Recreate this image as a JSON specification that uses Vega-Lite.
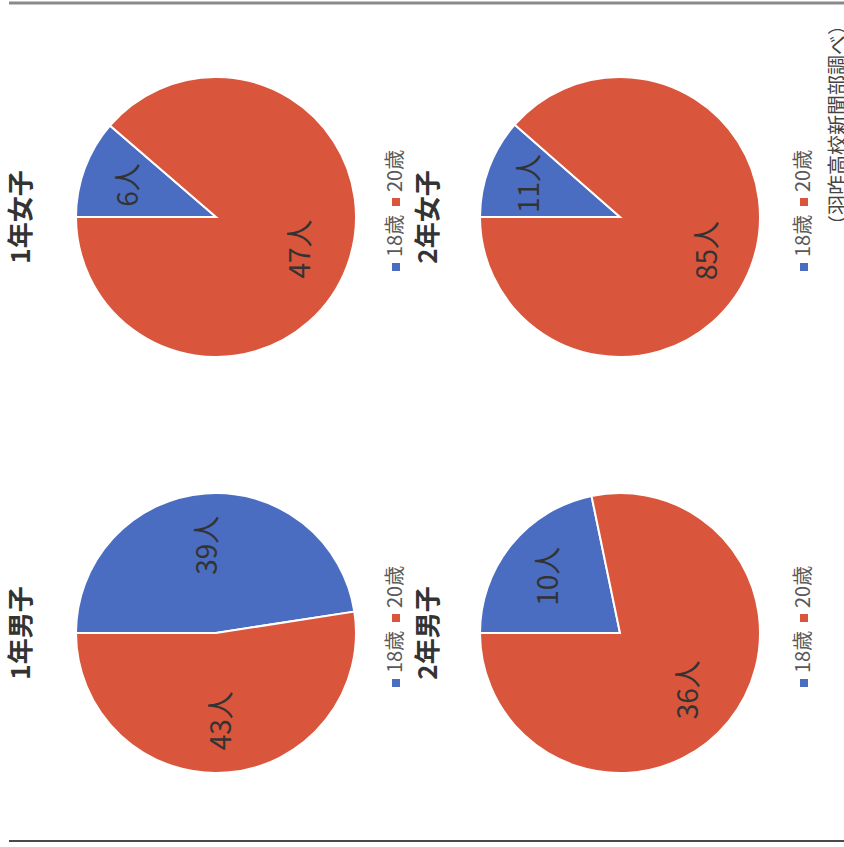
{
  "$schema": "https://vega.github.io/schema/vega-lite/v6.json",
  "padding": {"left": 7, "top": 1, "right": 0, "bottom": 0},
  "background": "white",
  "config": {"view": {"stroke": null}, "font": "Noto Sans CJK JP"},
  "datasets": {
    "pies": [
      {"grade": "1年女子", "age": "18歳", "count": 6, "label": "6人"},
      {"grade": "1年女子", "age": "20歳", "count": 47, "label": "47人"},
      {"grade": "1年男子", "age": "18歳", "count": 39, "label": "39人"},
      {"grade": "1年男子", "age": "20歳", "count": 43, "label": "43人"},
      {"grade": "2年女子", "age": "18歳", "count": 11, "label": "11人"},
      {"grade": "2年女子", "age": "20歳", "count": 85, "label": "85人"},
      {"grade": "2年男子", "age": "18歳", "count": 10, "label": "10人"},
      {"grade": "2年男子", "age": "20歳", "count": 36, "label": "36人"}
    ],
    "legend": [{"age": "18歳"}, {"age": "20歳"}],
    "border": [{"edge": 0, "start": 0, "end": 1}]
  },
  "resolve": {"scale": {"theta": "independent", "y": "independent", "x": "independent"}},
  "spacing": 128,
  "vconcat": [
    {
      "spacing": 10,
      "resolve": {"scale": {"theta": "independent", "y": "independent", "x": "independent"}},
      "vconcat": [
        {
          "width": 727, "height": 1,
          "data": {"name": "border"},
          "mark": {"type": "rule", "color": "#8a8a8a", "strokeWidth": 3, "xOffset": -67, "x2Offset": 41},
          "encoding": {
            "x": {"field": "start", "type": "quantitative", "scale": {"domain": [0, 1]}, "axis": null},
            "x2": {"field": "end"},
            "y": {"field": "edge", "type": "quantitative", "scale": {"domain": [0, 1]}, "axis": null}
          }
        },
        {
          "spacing": 10,
          "resolve": {"scale": {"theta": "independent", "y": "independent"}},
          "hconcat": [
            {
              "spacing": 25,
              "resolve": {"scale": {"theta": "independent", "y": "independent"}},
              "hconcat": [
                {
                  "title": {"text": "1年女子", "orient": "left", "fontSize": 26, "fontWeight": "bold", "offset": 37, "color": "#333333"},
                  "width": 280, "height": 280,
                  "data": {"name": "pies"},
                  "transform": [{"filter": "datum.grade === '1年女子'"}],
                  "layer": [
                    {"mark": {"type": "arc", "stroke": "white", "strokeWidth": 2},
                     "encoding": {"theta": {"field": "count", "type": "quantitative", "stack": true, "scale": {"range": [4.71238898, 10.99557429]}},
                                  "order": {"field": "age", "sort": "ascending"},
                                  "color": {"field": "age", "type": "nominal", "scale": {"domain": ["18歳", "20歳"], "range": ["#4a6dc1", "#d9553b"]}, "legend": null}}},
                    {"mark": {"type": "text", "radius": 92, "angle": 270, "fontSize": 28, "color": "#333333"},
                     "encoding": {"theta": {"field": "count", "type": "quantitative", "stack": true}, "order": {"field": "age", "sort": "ascending"}, "detail": {"field": "age", "type": "nominal"}, "text": {"field": "label"}}}
                  ]
                },
                {
                  "width": 20, "height": 280,
                  "data": {"name": "legend"},
                  "encoding": {"y": {"field": "age", "type": "nominal", "scale": {"type": "point", "domain": ["20歳", "18歳"], "range": [125, 190], "padding": 0}, "axis": null}},
                  "layer": [
                    {"mark": {"type": "square", "size": 64, "opacity": 1},
                     "encoding": {"color": {"field": "age", "type": "nominal", "scale": {"domain": ["18歳", "20歳"], "range": ["#4a6dc1", "#d9553b"]}, "legend": null}}},
                    {"mark": {"type": "text", "angle": 270, "align": "left", "baseline": "middle", "dx": 10, "fontSize": 20, "color": "#595959"},
                     "encoding": {"text": {"field": "age"}}}
                  ]
                }
              ]
            },
            {
              "spacing": 29,
              "resolve": {"scale": {"theta": "independent", "y": "independent"}},
              "hconcat": [
                {
                  "title": {"text": "2年女子", "orient": "left", "fontSize": 26, "fontWeight": "bold", "offset": 34, "color": "#333333"},
                  "width": 280, "height": 280,
                  "data": {"name": "pies"},
                  "transform": [{"filter": "datum.grade === '2年女子'"}],
                  "layer": [
                    {"mark": {"type": "arc", "stroke": "white", "strokeWidth": 2},
                     "encoding": {"theta": {"field": "count", "type": "quantitative", "stack": true, "scale": {"range": [4.71238898, 10.99557429]}},
                                  "order": {"field": "age", "sort": "ascending"},
                                  "color": {"field": "age", "type": "nominal", "scale": {"domain": ["18歳", "20歳"], "range": ["#4a6dc1", "#d9553b"]}, "legend": null}}},
                    {"mark": {"type": "text", "radius": 95, "angle": 270, "fontSize": 28, "color": "#333333"},
                     "encoding": {"theta": {"field": "count", "type": "quantitative", "stack": true}, "order": {"field": "age", "sort": "ascending"}, "detail": {"field": "age", "type": "nominal"}, "text": {"field": "label"}}}
                  ]
                },
                {
                  "title": {"text": "（羽咋高校新聞部調べ）", "orient": "right", "anchor": "start", "frame": "group", "angle": 270, "align": "right", "baseline": "middle", "dx": 62, "offset": 5, "fontSize": 20, "fontWeight": "normal", "color": "#444444"},
                  "width": 20, "height": 280,
                  "data": {"name": "legend"},
                  "encoding": {"y": {"field": "age", "type": "nominal", "scale": {"type": "point", "domain": ["20歳", "18歳"], "range": [125, 190], "padding": 0}, "axis": null}},
                  "layer": [
                    {"mark": {"type": "square", "size": 64, "opacity": 1},
                     "encoding": {"color": {"field": "age", "type": "nominal", "scale": {"domain": ["18歳", "20歳"], "range": ["#4a6dc1", "#d9553b"]}, "legend": null}}},
                    {"mark": {"type": "text", "angle": 270, "align": "left", "baseline": "middle", "dx": 10, "fontSize": 20, "color": "#595959"},
                     "encoding": {"text": {"field": "age"}}}
                  ]
                }
              ]
            }
          ]
        }
      ]
    },
    {
      "spacing": 63,
      "resolve": {"scale": {"theta": "independent", "y": "independent", "x": "independent"}},
      "vconcat": [
        {
          "spacing": 10,
          "resolve": {"scale": {"theta": "independent", "y": "independent"}},
          "hconcat": [
            {
              "spacing": 25,
              "resolve": {"scale": {"theta": "independent", "y": "independent"}},
              "hconcat": [
                {
                  "title": {"text": "1年男子", "orient": "left", "fontSize": 26, "fontWeight": "bold", "offset": 37, "color": "#333333"},
                  "width": 280, "height": 280,
                  "data": {"name": "pies"},
                  "transform": [{"filter": "datum.grade === '1年男子'"}],
                  "layer": [
                    {"mark": {"type": "arc", "stroke": "white", "strokeWidth": 2},
                     "encoding": {"theta": {"field": "count", "type": "quantitative", "stack": true, "scale": {"range": [4.71238898, 10.99557429]}},
                                  "order": {"field": "age", "sort": "ascending"},
                                  "color": {"field": "age", "type": "nominal", "scale": {"domain": ["18歳", "20歳"], "range": ["#4a6dc1", "#d9553b"]}, "legend": null}}},
                    {"mark": {"type": "text", "radius": 88, "angle": 270, "fontSize": 28, "color": "#333333"},
                     "encoding": {"theta": {"field": "count", "type": "quantitative", "stack": true}, "order": {"field": "age", "sort": "ascending"}, "detail": {"field": "age", "type": "nominal"}, "text": {"field": "label"}}}
                  ]
                },
                {
                  "width": 20, "height": 280,
                  "data": {"name": "legend"},
                  "encoding": {"y": {"field": "age", "type": "nominal", "scale": {"type": "point", "domain": ["20歳", "18歳"], "range": [125, 190], "padding": 0}, "axis": null}},
                  "layer": [
                    {"mark": {"type": "square", "size": 64, "opacity": 1},
                     "encoding": {"color": {"field": "age", "type": "nominal", "scale": {"domain": ["18歳", "20歳"], "range": ["#4a6dc1", "#d9553b"]}, "legend": null}}},
                    {"mark": {"type": "text", "angle": 270, "align": "left", "baseline": "middle", "dx": 10, "fontSize": 20, "color": "#595959"},
                     "encoding": {"text": {"field": "age"}}}
                  ]
                }
              ]
            },
            {
              "spacing": 29,
              "resolve": {"scale": {"theta": "independent", "y": "independent"}},
              "hconcat": [
                {
                  "title": {"text": "2年男子", "orient": "left", "fontSize": 26, "fontWeight": "bold", "offset": 34, "color": "#333333"},
                  "width": 280, "height": 280,
                  "data": {"name": "pies"},
                  "transform": [{"filter": "datum.grade === '2年男子'"}],
                  "layer": [
                    {"mark": {"type": "arc", "stroke": "white", "strokeWidth": 2},
                     "encoding": {"theta": {"field": "count", "type": "quantitative", "stack": true, "scale": {"range": [4.71238898, 10.99557429]}},
                                  "order": {"field": "age", "sort": "ascending"},
                                  "color": {"field": "age", "type": "nominal", "scale": {"domain": ["18歳", "20歳"], "range": ["#4a6dc1", "#d9553b"]}, "legend": null}}},
                    {"mark": {"type": "text", "radius": 90, "angle": 270, "fontSize": 28, "color": "#333333"},
                     "encoding": {"theta": {"field": "count", "type": "quantitative", "stack": true}, "order": {"field": "age", "sort": "ascending"}, "detail": {"field": "age", "type": "nominal"}, "text": {"field": "label"}}}
                  ]
                },
                {
                  "width": 20, "height": 280,
                  "data": {"name": "legend"},
                  "encoding": {"y": {"field": "age", "type": "nominal", "scale": {"type": "point", "domain": ["20歳", "18歳"], "range": [125, 190], "padding": 0}, "axis": null}},
                  "layer": [
                    {"mark": {"type": "square", "size": 64, "opacity": 1},
                     "encoding": {"color": {"field": "age", "type": "nominal", "scale": {"domain": ["18歳", "20歳"], "range": ["#4a6dc1", "#d9553b"]}, "legend": null}}},
                    {"mark": {"type": "text", "angle": 270, "align": "left", "baseline": "middle", "dx": 10, "fontSize": 20, "color": "#595959"},
                     "encoding": {"text": {"field": "age"}}}
                  ]
                }
              ]
            }
          ]
        },
        {
          "width": 727, "height": 1,
          "data": {"name": "border"},
          "mark": {"type": "rule", "color": "#4a4a4a", "strokeWidth": 2, "xOffset": -67, "x2Offset": 41},
          "encoding": {
            "x": {"field": "start", "type": "quantitative", "scale": {"domain": [0, 1]}, "axis": null},
            "x2": {"field": "end"},
            "y": {"field": "edge", "type": "quantitative", "scale": {"domain": [0, 1]}, "axis": null}
          }
        }
      ]
    }
  ]
}
